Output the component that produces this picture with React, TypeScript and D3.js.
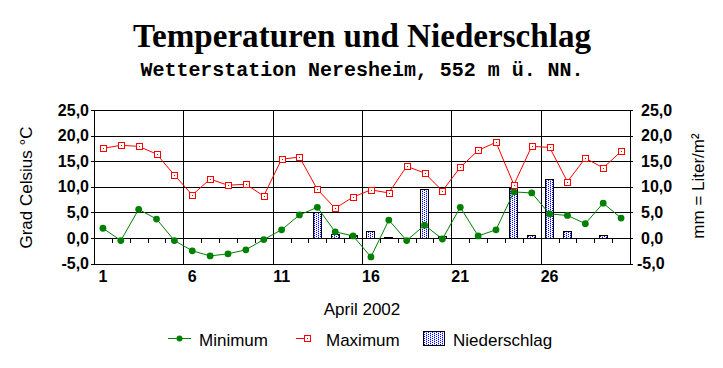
import React from "react";
import * as d3 from "d3";

const days = [1,2,3,4,5,6,7,8,9,10,11,12,13,14,15,16,17,18,19,20,21,22,23,24,25,26,27,28,29,30];
const minTemp = [1.9,-0.5,5.6,3.7,-0.5,-2.5,-3.5,-3.1,-2.3,-0.3,1.6,4.5,6.0,1.2,0.4,-3.7,3.5,-0.5,2.5,-0.2,6.0,0.4,1.6,9.0,8.8,4.7,4.4,2.8,6.8,3.9];
const maxTemp = [17.5,18.1,17.9,16.4,12.3,8.4,11.5,10.3,10.5,8.2,15.4,15.8,9.5,5.8,8.0,9.4,8.8,14.0,12.7,9.2,13.8,17.1,18.7,10.4,17.9,17.7,11.0,15.6,13.7,16.9];
const precip = [0,0,0,0,0,0,0,0,0,0,0,0,5.0,0.8,0.5,1.4,0.2,0,9.6,0.4,0,0,0,9.8,0.6,11.5,1.4,0,0.6,0];
const yTicks = [-5,0,5,10,15,20,25];
const xLabelDays = [1,6,11,16,21,26];
const gridAfterDays = [5,10,15,20,25];

const W = 723, H = 368;
const L = 94, R = 630, T = 110, B = 263.6;
const SANS = "'Liberation Sans', Arial, sans-serif";
const GREEN = "#008000";
const RED = "#FF0000";

export default function App() {
  const x = d3.scaleBand<number>().domain(days).range([L, R]).padding(0);
  const y = d3.scaleLinear().domain([-5, 25]).range([B, T]);
  const y2 = d3.scaleLinear().domain([-5, 25]).range([B, T]);
  const bw = x.bandwidth();
  const cx = (d: number) => (x(d) as number) + bw / 2;
  const fmt = (v: number) => d3.format(".1f")(v).replace(".", ",").replace("−", "-");
  const px = (v: number) => Math.round(v) + 0.5;
  const y0 = px(y(0));

  const lineMin = d3.line<number>().x((_, i) => cx(days[i])).y((v) => y(v));
  const lineMax = d3.line<number>().x((_, i) => cx(days[i])).y((v) => y(v));
  const barW = 9;

  return (
    <svg width={W} height={H} style={{ position: "absolute", left: 0, top: 0, background: "#fff" }}>
      <defs>
        <pattern id="dots" width="4" height="2" patternUnits="userSpaceOnUse">
          <rect width="4" height="2" fill="#fff" />
          <rect x="0" y="0" width="1" height="1" fill="#0000FF" />
          <rect x="2" y="1" width="1" height="1" fill="#0000FF" />
          <rect x="2" y="0" width="1" height="1" fill="#3333FF" opacity="0.35" />
        </pattern>
      </defs>
      <rect width={W} height={H} fill="#fff" />
      {/* Titles */}
      <text x={362} y={47} textAnchor="middle" fontFamily="'Liberation Serif', 'Times New Roman', serif" fontWeight="bold" fontSize={34} textLength={458} lengthAdjust="spacingAndGlyphs">Temperaturen und Niederschlag</text>
      <text x={362} y={76} textAnchor="middle" fontFamily="'Liberation Mono', 'Courier New', monospace" fontWeight="bold" fontSize={20} textLength={443} lengthAdjust="spacingAndGlyphs">Wetterstation Neresheim, 552 m ü. NN.</text>

      {/* Gridlines and axes */}
      <g shapeRendering="crispEdges" stroke="#000" strokeWidth={1}>
        {yTicks.map((t) => (
          <line key={"g" + t} x1={L - 3} x2={R + 3} y1={px(y(t))} y2={px(y(t))} />
        ))}
        {gridAfterDays.map((d) => {
          const gx = px((x(d) as number) + bw);
          return <line key={"v" + d} x1={gx} x2={gx} y1={px(T)} y2={px(B)} />;
        })}
        <line x1={px(L)} x2={px(L)} y1={px(T)} y2={px(B)} />
        <line x1={px(R)} x2={px(R)} y1={px(T)} y2={px(B)} />
        {days.slice(0, 29).map((d) => {
          const tx = px((x(d) as number) + bw);
          return <line key={"t" + d} x1={tx} x2={tx} y1={y0} y2={y0 + 4} />;
        })}
      </g>

      {/* Bars */}
      <g shapeRendering="crispEdges">
        {precip.map((v, i) =>
          v > 0 ? (
            <rect key={"b" + i} x={Math.round(cx(days[i]) - barW / 2) + 0.5} y={Math.round(y2(v)) + 0.5} width={barW - 1} height={Math.max(0, Math.round(y2(0)) - Math.round(y2(v)))} fill="url(#dots)" stroke="#000" strokeWidth={1} />
          ) : null
        )}
      </g>

      {/* Lines */}
      <path d={lineMax(maxTemp) || ""} fill="none" stroke={RED} strokeWidth={1} />
      <path d={lineMin(minTemp) || ""} fill="none" stroke={GREEN} strokeWidth={1} />
      {minTemp.map((v, i) => (
        <circle key={"mc" + i} cx={cx(days[i])} cy={y(v)} r={3.4} fill={GREEN} />
      ))}
      {maxTemp.map((v, i) => (
        <g key={"mx" + i} shapeRendering="crispEdges">
          <rect x={Math.round(cx(days[i])) - 3 + 0.5} y={Math.round(y(v)) - 3 + 0.5} width={6} height={6} fill="#fff" stroke={RED} strokeWidth={1} />
          <rect x={Math.round(cx(days[i]))} y={Math.round(y(v))} width={1} height={1} fill={RED} />
        </g>
      ))}

      {/* Axis labels */}
      <g fontFamily={SANS} fontWeight="bold" fontSize={16} fill="#000">
        {yTicks.map((t) => (
          <text key={"yl" + t} x={89} y={y(t) + 5.5} textAnchor="end">{fmt(t)}</text>
        ))}
        {yTicks.map((t) => (
          <text key={"yr" + t} x={t < 0 ? 637 : 641} y={y2(t) + 5.5} textAnchor="start">{fmt(t)}</text>
        ))}
        {xLabelDays.map((d) => (
          <text key={"xl" + d} x={cx(d)} y={282} textAnchor="middle">{d}</text>
        ))}
      </g>
      <g fontFamily={SANS} fontSize={17} fill="#000">
        <text transform="translate(32,187.5) rotate(-90)" textAnchor="middle">Grad Celsius °C</text>
        <text transform="translate(704,186) rotate(-90)" textAnchor="middle">mm = Liter/m²</text>
        <text x={362} y={315} textAnchor="middle">April 2002</text>
      </g>

      {/* Legend */}
      <g fontFamily={SANS} fontSize={17} fill="#000">
        <line x1={168} x2={191} y1={338.5} y2={338.5} stroke={GREEN} />
        <circle cx={179.5} cy={338.5} r={3} fill={GREEN} />
        <text x={199} y={346}>Minimum</text>
        <line x1={296} x2={307} y1={338.5} y2={338.5} stroke={RED} />
        <rect x={304.5} y={335.5} width={6} height={6} fill="#fff" stroke={RED} shapeRendering="crispEdges" />
        <rect x={307} y={338} width={1} height={1} fill={RED} />
        <text x={326} y={346}>Maximum</text>
        <rect x={423.5} y={331.5} width={21} height={14} fill="url(#dots)" stroke="#000" shapeRendering="crispEdges" />
        <text x={453} y={346}>Niederschlag</text>
      </g>
    </svg>
  );
}
